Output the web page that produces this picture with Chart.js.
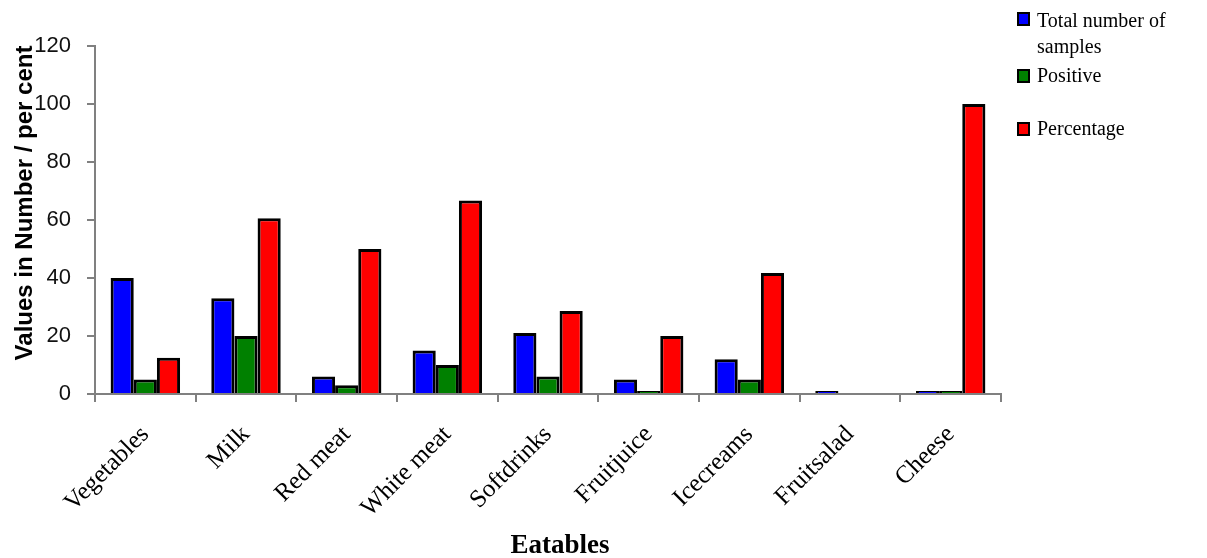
<!DOCTYPE html>
<html>
<head>
<meta charset="utf-8">
<script src="https://cdn.jsdelivr.net/npm/chart.js@4/dist/chart.umd.min.js"></script>
<style>
html,body{margin:0;padding:0;background:#fff;}
#wrap{width:1207px;height:558px;position:relative;}
</style>
</head>
<body>
<div id="wrap"><canvas id="c"></canvas></div>
<script>
const categories = ["Vegetables","Milk","Red meat","White meat","Softdrinks","Fruitjuice","Icecreams","Fruitsalad","Cheese"];
const totalSamples = [40, 33, 6, 15, 21, 5, 12, 1, 1];
const positive = [5, 20, 3, 10, 6, 1, 5, 0, 1];
const percentage = [12.5, 60.6, 50, 66.7, 28.6, 20, 41.7, 0, 100];
const seriesNames = ["Total number of samples", "Positive", "Percentage"];
const yTicks = [0, 20, 40, 60, 80, 100, 120];
const yTitle = "Values in Number / per cent";
const xTitle = "Eatables";

const colors = ["#0000FF", "#008000", "#FF0000"];

const overlay = {
  id: 'overlay',
  afterDraw(chart) {
    const ctx = chart.ctx;
    ctx.save();
    ctx.fillStyle = '#000';
    // y title
    ctx.save();
    ctx.translate(25, 203);
    ctx.rotate(-Math.PI / 2);
    ctx.font = 'bold 24px "Liberation Sans", Arial, sans-serif';
    ctx.textAlign = 'center';
    ctx.textBaseline = 'middle';
    ctx.fillText(yTitle, 0, 0);
    ctx.restore();
    // x title
    ctx.font = 'bold 27px "Liberation Serif", "Times New Roman", serif';
    ctx.textAlign = 'center';
    ctx.textBaseline = 'alphabetic';
    ctx.fillText(xTitle, 560, 553);
    // legend
    const items = [
      {lines: ["Total number of", "samples"], sq: 13, base: [27, 53]},
      {lines: ["Positive"], sq: 70, base: [82]},
      {lines: ["Percentage"], sq: 123, base: [135]}
    ];
    ctx.font = '20px "Liberation Serif", "Times New Roman", serif';
    ctx.textAlign = 'left';
    items.forEach((it, i) => {
      ctx.fillStyle = colors[i];
      ctx.fillRect(1018, it.sq, 11, 12);
      ctx.strokeStyle = '#000';
      ctx.lineWidth = 2;
      ctx.strokeRect(1018, it.sq, 11, 12);
      ctx.fillStyle = '#000';
      it.lines.forEach((l, j) => ctx.fillText(l, 1037, it.base[j]));
    });
    ctx.restore();
  }
};

const datasets = [totalSamples, positive, percentage].map((d, i) => ({
  label: seriesNames[i],
  data: d,
  backgroundColor: colors[i],
  borderColor: '#000',
  borderWidth: 3,
  borderSkipped: 'start',
  categoryPercentage: 0.69,
  barPercentage: 1.0
}));

new Chart(document.getElementById('c'), {
  type: 'bar',
  data: { labels: categories, datasets },
  plugins: [overlay],
  options: {
    responsive: true,
    maintainAspectRatio: false,
    animation: false,
    layout: { padding: { top: 46, right: 206, left: 0, bottom: 0 } },
    plugins: { legend: { display: false }, tooltip: { enabled: false } },
    scales: {
      x: {
        grid: { offset: true, drawOnChartArea: false, drawTicks: true, tickLength: 8, color: '#808080', lineWidth: 2 },
        border: { display: true, color: '#808080', width: 2 },
        ticks: {
          maxRotation: 45, minRotation: 45, padding: 18,
          color: '#000',
          font: { family: '"Liberation Serif", "Times New Roman", serif', size: 25 }
        },
        afterFit(s) { s.height = 164; }
      },
      y: {
        min: 0, max: 120,
        grid: { drawOnChartArea: false, drawTicks: true, tickLength: 8, color: '#808080', lineWidth: 2 },
        border: { display: true, color: '#808080', width: 2 },
        afterBuildTicks(s) { s.ticks = yTicks.map(v => ({ value: v })); },
        ticks: {
          padding: 16,
          color: '#111',
          font: { family: '"Liberation Sans", Arial, sans-serif', size: 22 }
        },
        afterFit(s) { s.width = 95; }
      }
    }
  }
});
</script>
</body>
</html>
